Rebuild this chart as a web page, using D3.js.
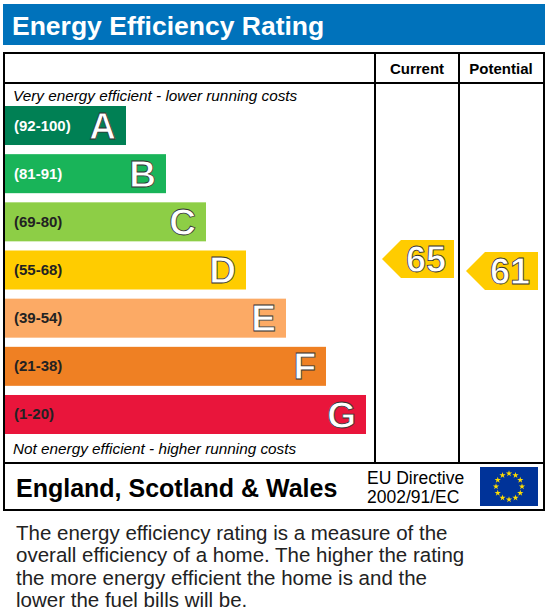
<!DOCTYPE html>
<html><head><meta charset="utf-8">
<script src="https://cdn.jsdelivr.net/npm/d3@7"></script>
<style>body{margin:0;background:#fff}text{font-family:Arial,"Liberation Sans",sans-serif}</style>
</head><body>
<script>
// bands
var letters = ["A", "B", "C", "D", "E", "F", "G"];
var ranges = ["(92-100)", "(81-91)", "(69-80)", "(55-68)", "(39-54)", "(21-38)", "(1-20)"];
var colors = ["#008054", "#19b459", "#8dce46", "#ffcc00", "#fcaa65", "#ef8023", "#e9153b"];
var rangeText = ["#fff", "#fff", "#222", "#222", "#222", "#222", "#222"];
// ratings
var ratingNames = ["Current", "Potential"];
var ratingValues = [65, 61];

var svg = d3.select("body").append("svg").attr("width", 550).attr("height", 612);

svg.append("rect").attr("x", 3).attr("y", 4).attr("width", 542).attr("height", 41).attr("fill", "#0072bb");
svg.append("text").attr("x", 12).attr("y", 35).attr("fill", "#fff")
  .attr("font-size", 26.5).attr("font-weight", "bold").text("Energy Efficiency Rating");

// table frame
var g = svg.append("g").attr("fill", "none").attr("stroke", "#000").attr("stroke-width", 2);
g.append("rect").attr("x", 4).attr("y", 53).attr("width", 540).attr("height", 457);
g.append("line").attr("x1", 4).attr("x2", 544).attr("y1", 83).attr("y2", 83);
g.append("line").attr("x1", 4).attr("x2", 544).attr("y1", 463).attr("y2", 463);
g.append("line").attr("x1", 375).attr("x2", 375).attr("y1", 53).attr("y2", 463);
g.append("line").attr("x1", 459).attr("x2", 459).attr("y1", 53).attr("y2", 463);

svg.append("text").attr("x", 417).attr("y", 74).attr("text-anchor", "middle")
  .attr("font-size", 15).attr("font-weight", "bold").text(ratingNames[0]);
svg.append("text").attr("x", 501).attr("y", 74).attr("text-anchor", "middle")
  .attr("font-size", 15).attr("font-weight", "bold").text(ratingNames[1]);

svg.append("text").attr("x", 13).attr("y", 101).attr("font-size", 15.3).attr("font-style", "italic")
  .text("Very energy efficient - lower running costs");
svg.append("text").attr("x", 13).attr("y", 454).attr("font-size", 15.3).attr("font-style", "italic")
  .text("Not energy efficient - higher running costs");

var y = d3.scaleBand().domain(letters).range([106, 434]).paddingInner(0.19).paddingOuter(0);
var w = d3.scaleLinear().domain([0, 6]).range([121, 361]);

var bands = svg.selectAll(".band").data(letters).enter().append("g")
  .attr("transform", d => `translate(5,${y(d)})`);
bands.append("rect").attr("width", (d, i) => w(i)).attr("height", y.bandwidth())
  .attr("fill", (d, i) => colors[i]);
bands.append("text").attr("x", 9).attr("y", y.bandwidth() / 2 + 5).attr("font-size", 15)
  .attr("font-weight", "bold").attr("fill", (d, i) => rangeText[i]).text((d, i) => ranges[i]);
bands.append("text").attr("x", (d, i) => w(i) - 10).attr("y", y.bandwidth() / 2 + 13)
  .attr("text-anchor", "end").attr("font-size", 37).attr("font-weight", "bold")
  .attr("fill", "#fff").attr("stroke", "#333").attr("stroke-width", 0.8).text(d => d);

// arrow position from rating value
var ry = d3.scaleLinear().domain([65, 61]).range([259, 271]);
var cols = [382, 466];
ratingValues.forEach(function(v, i) {
  var x0 = cols[i], cy = ry(v), h = 38, aw = 72;
  var pts = [[x0, cy], [x0 + 19, cy - h / 2], [x0 + aw, cy - h / 2], [x0 + aw, cy + h / 2], [x0 + 19, cy + h / 2]];
  svg.append("polygon").attr("points", pts.map(p => p.join(",")).join(" ")).attr("fill", "#ffcc00");
  svg.append("text").attr("x", x0 + 44).attr("y", cy + 13).attr("text-anchor", "middle")
    .attr("font-size", 36).attr("font-weight", "bold").attr("fill", "#fff")
    .attr("stroke", "#333").attr("stroke-width", 0.8).text(v);
});

// footer
svg.append("text").attr("x", 16).attr("y", 497).attr("font-size", 25).attr("font-weight", "bold")
  .text("England, Scotland & Wales");
svg.append("text").attr("x", 367).attr("y", 484).attr("font-size", 17.5).text("EU Directive");
svg.append("text").attr("x", 367).attr("y", 503).attr("font-size", 17.5).text("2002/91/EC");
svg.append("rect").attr("x", 480).attr("y", 467).attr("width", 58).attr("height", 39).attr("fill", "#003399");
var star = d3.symbol().type(d3.symbolStar).size(12);
d3.range(12).forEach(function(k) {
  var a = k * Math.PI / 6;
  svg.append("path").attr("d", star)
    .attr("transform", `translate(${509 + 13 * Math.sin(a)},${486.5 - 13 * Math.cos(a)})`)
    .attr("fill", "#ffdd00");
});

var para = ["The energy efficiency rating is a measure of the",
  "overall efficiency of a home. The higher the rating",
  "the more energy efficient the home is and the",
  "lower the fuel bills will be."];
svg.selectAll(".p").data(para).enter().append("text").attr("x", 16).attr("y", (d, i) => 540 + i * 22.3)
  .attr("font-size", 20.5).attr("fill", "#222").text(d => d);
</script>
</body></html>
